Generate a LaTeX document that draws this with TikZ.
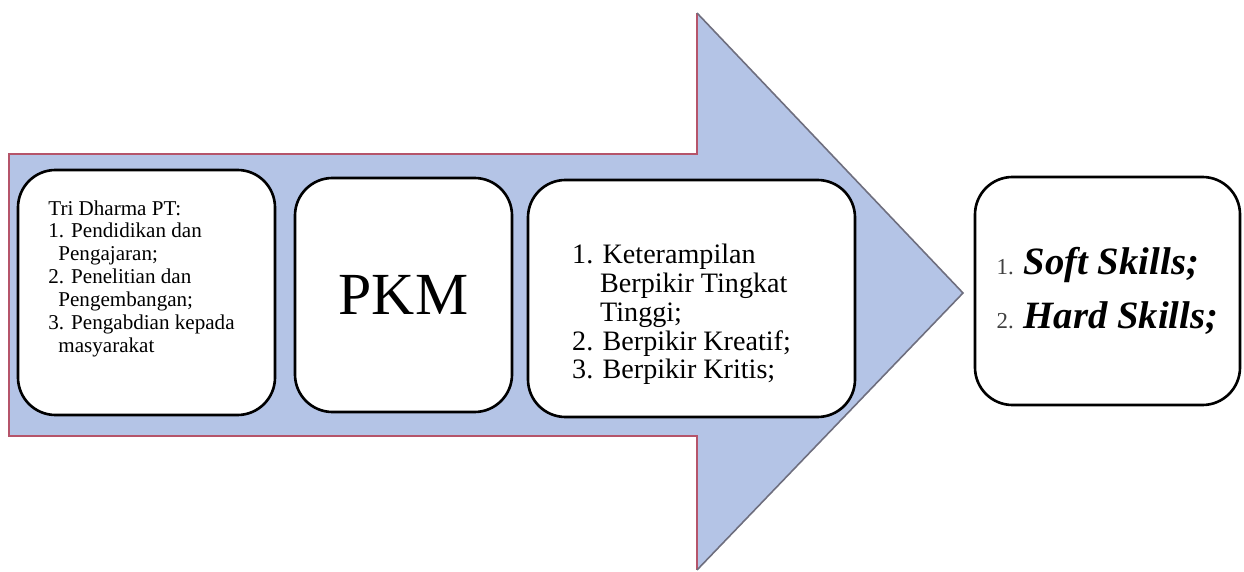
\documentclass[tikz,border=0pt]{standalone}
\usepackage{fontspec}
\setmainfont{Liberation Serif}
\definecolor{flowblue}{HTML}{B4C4E6}
\definecolor{flowred}{HTML}{B5546A}
\definecolor{flowgray}{HTML}{6E6E7E}
\usetikzlibrary{positioning}
\newcommand{\skillnum}[1]{{\fontsize{13}{13}\selectfont\color{black!75}#1}}
\tikzset{
    stagebox/.style={
        draw=black,
        fill=white,
        rounded corners=0.75cm,
        line width=1.5pt,
        align=left,
        inner sep=0pt
    },
    arrowedge/.style={
        draw=flowred,
        line width=0.9pt
    },
    arrowtip/.style={
        draw=flowgray,
        line width=0.9pt
    }
}

\begin{document}
\begin{tikzpicture}
    \useasboundingbox (0,0) rectangle (24.88,-11.44);

    % big arrow behind the first three stages
    \coordinate (shafttl) at (0.18,-3.08);
    \coordinate (shafttr) at (13.94,-3.08);
    \coordinate (necktop) at (13.94,-0.26);
    \coordinate (tip) at (19.26,-5.86);
    \coordinate (neckbot) at (13.94,-11.40);
    \coordinate (shaftbr) at (13.94,-8.72);
    \coordinate (shaftbl) at (0.18,-8.72);
    \fill[flowblue] (shafttl) -- (shafttr) -- (necktop) -- (tip)
        -- (neckbot) -- (shaftbr) -- (shaftbl) -- cycle;
    \draw[arrowedge] (necktop) -- (shafttr) -- (shafttl)
        -- (shaftbl) -- (shaftbr) -- (neckbot);
    \draw[arrowtip] (necktop) -- (tip) -- (neckbot);

    \node[stagebox,minimum width=5.14cm,minimum height=4.9cm,
          font=\fontsize{12}{13}\selectfont] (tridharma) at (2.93,-5.85)
        {Tri Dharma PT:\\
         1. Pendidikan dan\\
         \hspace*{0.2cm}Pengajaran;\\
         2. Penelitian dan\\
         \hspace*{0.2cm}Pengembangan;\\
         3. Pengabdian kepada\rule{0.2cm}{0pt}\\
         \hspace*{0.2cm}masyarakat\rule[-0.65cm]{0pt}{0pt}};
    \node[stagebox,minimum width=4.34cm,minimum height=4.68cm,
          font=\fontsize{34}{38}\selectfont] (pkm) at (8.07,-5.9)
        {PKM};
    \node[stagebox,minimum width=6.54cm,minimum height=4.74cm,
          font=\fontsize{16}{16.5}\selectfont] (berpikir) at (13.83,-5.97)
        {\rule{0pt}{1.02cm}1. Keterampilan\\
         \hspace*{0.56cm}Berpikir Tingkat\\
         \hspace*{0.56cm}Tinggi;\\
         2. Berpikir Kreatif;\rule{0.4cm}{0pt}\\
         3. Berpikir Kritis;};
    \node[stagebox,minimum width=5.3cm,minimum height=4.56cm,
          font=\fontsize{22}{31}\selectfont] (skills) at (22.15,-5.82)
        {\skillnum{1.}\hspace{0.2cm}\textbf{\textit{Soft Skills;}}\\
         \skillnum{2.}\hspace{0.2cm}\textbf{\textit{Hard Skills;}}};
\end{tikzpicture}
\end{document}
